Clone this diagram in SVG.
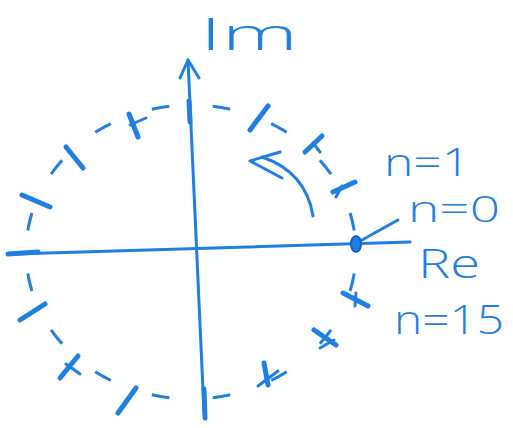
<svg xmlns="http://www.w3.org/2000/svg" width="513" height="428" viewBox="0 0 513 428">
<style>
.ln{stroke:#1f80e2;stroke-width:3;fill:none;stroke-linecap:round;stroke-linejoin:round}
.ds{stroke:#1f80e2;stroke-width:3;fill:none;stroke-linecap:butt}
.tk{stroke:#1f80e2;stroke-width:5;fill:none;stroke-linecap:round}
.tx{fill:#1f80e2;font-family:"Open Sans","DejaVu Sans",sans-serif;font-weight:300}
</style>
<rect width="513" height="428" fill="#fff"/>
<g id="connectors">
<ellipse class="ds" cx="191" cy="252" rx="165" ry="147" pathLength="992" stroke-dasharray="0 22 18 22"/>
<line class="ln" x1="15" y1="254" x2="410" y2="242"/>
<line class="ln" x1="204" y1="412" x2="188" y2="60"/>
<polyline class="ln" points="180,78 188,60 199,78"/>
<path class="ln" d="M313,216 Q306,172 262,157"/>
<polyline class="ln" points="280,152 250,161 282,178"/>
<line class="ln" x1="362" y1="240" x2="398" y2="220"/>
</g>
<g id="roots">
<g id="n0"><ellipse cx="356" cy="244" rx="5" ry="8" fill="#1f80e2" stroke="#1560c0" stroke-width="2"/></g>
<g id="n1"><line class="tk" x1="333" y1="192" x2="355" y2="182"/><line class="ln" x1="336" y1="197" x2="342" y2="186"/></g>
<g id="n2"><line class="tk" x1="305" y1="152" x2="322" y2="136"/><line class="ln" x1="313" y1="143" x2="320" y2="152"/></g>
<g id="n3"><line class="tk" x1="250" y1="130" x2="268" y2="106"/></g>
<g id="n4"><line class="tk" x1="189" y1="101" x2="190" y2="122"/></g>
<g id="n5"><line class="tk" x1="129" y1="114" x2="138" y2="137"/><line class="ln" x1="130" y1="125" x2="146" y2="118"/></g>
<g id="n6"><line class="tk" x1="66" y1="147" x2="83" y2="168"/></g>
<g id="n7"><line class="tk" x1="22" y1="195" x2="50" y2="207"/></g>
<g id="n8"><line class="tk" x1="8" y1="254" x2="38" y2="252"/></g>
<g id="n9"><line class="tk" x1="20" y1="320" x2="45" y2="304"/></g>
<g id="n10"><line class="tk" x1="60" y1="378" x2="78" y2="356"/><line class="ln" x1="66" y1="364" x2="80" y2="374"/></g>
<g id="n11"><line class="tk" x1="118" y1="413" x2="136" y2="388"/></g>
<g id="n12"><line class="tk" x1="204" y1="389" x2="205" y2="418"/></g>
<g id="n13"><line class="tk" x1="264" y1="363" x2="268" y2="385"/><line class="ln" x1="258" y1="386" x2="278" y2="371"/></g>
<g id="n14"><line class="tk" x1="314" y1="330" x2="336" y2="345"/><line class="ln" x1="320" y1="348" x2="334" y2="340"/></g>
<g id="n15"><line class="tk" x1="343" y1="293" x2="368" y2="306"/><line class="ln" x1="356" y1="293" x2="355" y2="306"/></g>
</g>
<g id="label-im"><text class="tx" x="200" y="50" font-size="44" textLength="98" lengthAdjust="spacingAndGlyphs">Im</text></g>
<g id="label-re"><text class="tx" x="418" y="278" font-size="40" textLength="62" lengthAdjust="spacingAndGlyphs">Re</text></g>
<g id="label-n1"><text class="tx" x="384" y="176" font-size="38" textLength="86" lengthAdjust="spacingAndGlyphs">n=1</text></g>
<g id="label-n0"><text class="tx" x="408" y="222" font-size="36" textLength="92" lengthAdjust="spacingAndGlyphs">n=0</text></g>
<g id="label-n15"><text class="tx" x="394" y="334" font-size="40" textLength="110" lengthAdjust="spacingAndGlyphs">n=15</text></g>
</svg>
